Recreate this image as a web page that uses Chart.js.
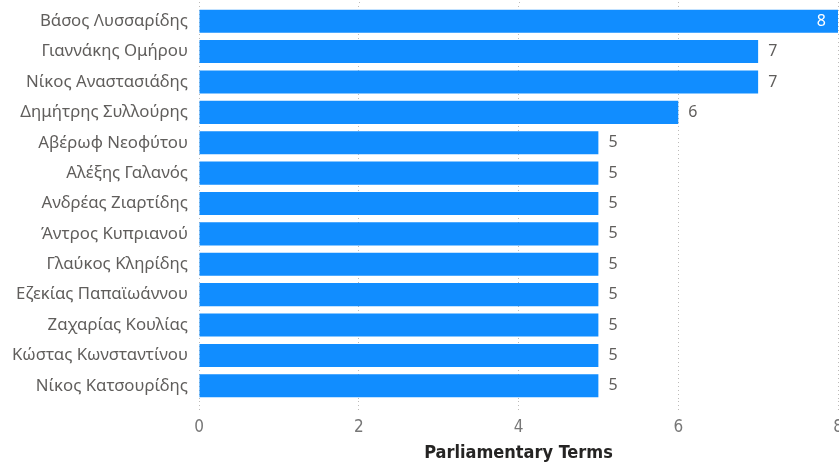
<!DOCTYPE html>
<html>
<head>
<meta charset="utf-8">
<script src="https://cdn.jsdelivr.net/npm/chart.js@4"></script>
<style>
  html, body { margin: 0; padding: 0; background: #fff; overflow: hidden; }
</style>
</head>
<body>
<canvas id="myChart" width="839" height="464"></canvas>
<script>
/*********************donnees************************** */
const members = [
  'Βάσος Λυσσαρίδης', 'Γιαννάκης Ομήρου', 'Νίκος Αναστασιάδης', 'Δημήτρης Συλλούρης',
  'Αβέρωφ Νεοφύτου', 'Αλέξης Γαλανός', 'Ανδρέας Ζιαρτίδης', 'Άντρος Κυπριανού',
  'Γλαύκος Κληρίδης', 'Εζεκίας Παπαϊωάννου', 'Ζαχαρίας Κουλίας', 'Κώστας Κωνσταντίνου',
  'Νίκος Κατσουρίδης'
];
const terms = [8, 7, 7, 6, 5, 5, 5, 5, 5, 5, 5, 5, 5];
const xTicks = [0, 2, 4, 6, 8];

const gridColor = '#BDBBB9';

/*********************etiquettes des barres************************** */
const barLabels = {
  id: 'barLabels',
  afterDatasetsDraw(chart) {
    const ctx = chart.ctx;
    const meta = chart.getDatasetMeta(0);
    ctx.save();
    ctx.font = '16px "Noto Sans", "Open Sans", sans-serif';
    ctx.textBaseline = 'middle';
    meta.data.forEach((bar, i) => {
      const txt = String(terms[i]);
      const w = ctx.measureText(txt).width;
      // pas de place a droite : on ecrit dans la barre
      if (bar.x + 10 + w > chart.width - 4) {
        ctx.fillStyle = '#ffffff';
        ctx.textAlign = 'right';
        ctx.fillText(txt, bar.x - 12, bar.y);
      } else {
        ctx.fillStyle = '#605E5C';
        ctx.textAlign = 'left';
        ctx.fillText(txt, bar.x + 10, bar.y);
      }
    });
    ctx.restore();
  }
};

/*********************grille jusqu'en haut************************** */
const gridTop = {
  id: 'gridTop',
  beforeDatasetsDraw(chart) {
    const ctx = chart.ctx;
    const x = chart.scales.x;
    ctx.save();
    ctx.strokeStyle = gridColor;
    ctx.lineWidth = 1;
    ctx.setLineDash([1, 3]);
    xTicks.forEach(v => {
      const px = Math.round(x.getPixelForValue(v)) + 0.5;
      ctx.beginPath();
      ctx.moveTo(px, 2);
      ctx.lineTo(px, chart.chartArea.top);
      ctx.stroke();
    });
    ctx.restore();
  }
};

const ctx = document.getElementById('myChart');
const myChart = new Chart(ctx, {
  type: 'bar',
  data: {
    labels: members,
    datasets: [{
      label: 'Parliamentary Terms',
      data: terms,
      backgroundColor: '#118DFF',
      borderWidth: 0,
      categoryPercentage: 1,
      barPercentage: 0.76
    }]
  },
  options: {
    indexAxis: 'y',
    responsive: false,
    animation: false,
    layout: { padding: { top: 6, left: 0, right: 1, bottom: 0 } },
    plugins: {
      legend: { display: false },
      tooltip: { enabled: false }
    },
    scales: {
      x: {
        min: 0,
        max: 8,
        afterBuildTicks: axis => { axis.ticks = xTicks.map(v => ({ value: v })); },
        afterFit: axis => { axis.paddingLeft = 0; axis.paddingRight = 0; axis.height = 63; },
        border: { display: false, dash: [1, 3] },
        grid: {
          color: gridColor,
          lineWidth: 1,
          tickLength: 11,
          drawTicks: true,
          tickBorderDash: [1, 3]
        },
        ticks: {
          color: '#777777',
          padding: 5,
          maxRotation: 0,
          font: { size: 17, family: '"DejaVu Sans Condensed", "Liberation Sans Narrow", sans-serif' }
        },
        title: {
          display: true,
          text: 'Parliamentary Terms',
          color: '#252423',
          padding: { top: 5, bottom: 0 },
          font: { size: 18, weight: 'bold', family: '"DejaVu Sans Condensed", "Liberation Sans Narrow", sans-serif' }
        }
      },
      y: {
        afterFit: axis => { axis.paddingTop = 0; axis.paddingBottom = 0; axis.width = 199; },
        border: { display: false },
        grid: { display: false, drawTicks: false },
        ticks: {
          color: '#605E5C',
          padding: 11,
          font: { size: 16.8, family: '"Noto Sans", "Open Sans", sans-serif' }
        }
      }
    }
  },
  plugins: [barLabels, gridTop]
});
</script>
</body>
</html>
